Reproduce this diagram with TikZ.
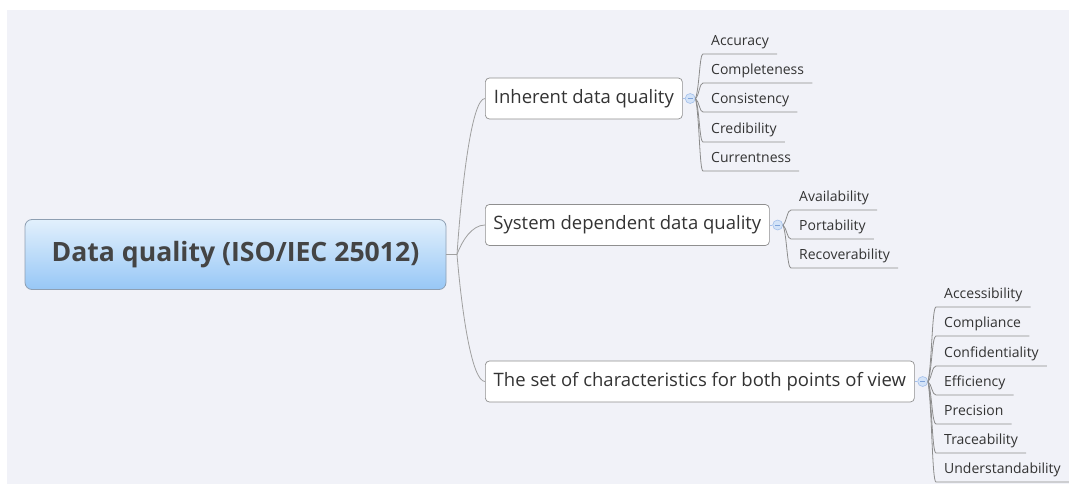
\documentclass[tikz,border=0pt]{standalone}
\usepackage{fontspec}
\setmainfont{Open Sans}
\usetikzlibrary{calc}

\definecolor{panel}{HTML}{F1F2F8}
\definecolor{rootTop}{HTML}{E2F0FC}
\definecolor{rootBot}{HTML}{97C7F6}
\definecolor{rootEdge}{HTML}{8E9FB2}
\definecolor{ink}{HTML}{333333}
\definecolor{rootInk}{HTML}{444444}
\definecolor{boxEdge}{HTML}{8F8F8F}
\definecolor{wire}{HTML}{A0A0A0}
\definecolor{rule}{HTML}{8C8C8C}
\definecolor{knobFill}{HTML}{D3E3F8}
\definecolor{knobEdge}{HTML}{A4C0EA}
\definecolor{knobMark}{HTML}{7FA3DA}

\begin{document}
\begin{tikzpicture}[x=1pt,y=-1pt,
  rootbox/.style={draw=rootEdge, line width=0.8pt, rounded corners=7pt,
    top color=rootTop, bottom color=rootBot,
    minimum width=421pt, minimum height=70pt, inner sep=0pt,
    font=\bfseries\fontsize{26.6}{32}\selectfont, text=rootInk},
  topic/.style={draw=boxEdge, line width=0.7pt, rounded corners=4pt, fill=white,
    anchor=west, minimum height=41pt, inner sep=0pt,
    font=\fontsize{18.5}{22}\selectfont, text=ink},
  knob/.style={circle, draw=knobEdge, fill=knobFill, line width=0.6pt,
    minimum size=10pt, inner sep=0pt,
    path picture={\draw[knobMark, line width=0.7pt]
      ([xshift=-2.6pt]path picture bounding box.center) -- ++(5.2,0);}},
  stub/.style={draw=knobEdge, line width=0.6pt},
  leaf/.style={anchor=south west, inner xsep=8pt, inner ysep=8.5pt,
    text depth=0pt, font=\fontsize{14}{17}\selectfont, text=ink},
  hubline/.style={draw=wire, line width=0.8pt},
  leafline/.style={draw=rule, line width=0.8pt},
  hubwire/.style={
    to path={let \p1=(\tikztostart), \p2=(\tikztotarget) in
      .. controls (\x1+5pt, {\y1+0.47*(\y2-\y1)}) and (\x2-13pt, \y2) .. (\tikztotarget)}},
  leafwire/.style={
    to path={let \p1=(\tikztostart), \p2=(\tikztotarget) in
      .. controls (\x1+4pt, {\y1+0.25*(\y2-\y1)}) and (\x1+4pt, \y2) .. (\tikztotarget)}}
]
\useasboundingbox (0,0) rectangle (1069,493);
\fill[panel] (7,10) rectangle (1069,484);

% central topic
\node[rootbox] (root) at (235.5,254.5) {Data quality (ISO/IEC 25012)};
\coordinate (hub) at (457,254.5);

% main branches
\node[topic, minimum width=197pt] (inh) at (485,98.5) {Inherent data quality};
\node[topic, minimum width=284pt] (sys) at (485,225) {System dependent data quality};
\node[topic, minimum width=429pt] (both) at (485,381.5) {The set of characteristics for both points of view};

\draw[hubline] (root.east) -- (hub);
\draw[hubline] (hub) to[hubwire] (inh.west);
\draw[hubline] (hub) to[hubwire] (sys.west);
\draw[hubline] (hub) to[hubwire] (both.west);

% collapse knobs
\node[knob] (k1) at ($(inh.east)+(7.5,0)$) {};
\node[knob] (k2) at ($(sys.east)+(8,0)$) {};
\node[knob] (k3) at ($(both.east)+(8,0)$) {};
\draw[stub] (inh.east) -- (k1.west);
\draw[stub] (sys.east) -- (k2.west);
\draw[stub] (both.east) -- (k3.west);

% inherent characteristics
\node[leaf] (acc)  at (703,54)  {Accuracy};
\node[leaf] (comp) at (703,83)  {Completeness};
\node[leaf] (cons) at (703,112) {Consistency};
\node[leaf] (cred) at (703,142) {Credibility};
\node[leaf] (curr) at (703,171) {Currentness};
\foreach \lf in {acc,comp,cons,cred,curr}
  \draw[leafline] (k1.east) to[leafwire] (\lf.south west) -- (\lf.south east);

% system dependent characteristics
\node[leaf] (avail) at (791,210) {Availability};
\node[leaf] (port)  at (791,239) {Portability};
\node[leaf] (recov) at (791,268) {Recoverability};
\foreach \lf in {avail,port,recov}
  \draw[leafline] (k2.east) to[leafwire] (\lf.south west) -- (\lf.south east);

% characteristics for both points of view
\node[leaf] (acs)  at (936,307) {Accessibility};
\node[leaf] (cmpl) at (936,336) {Compliance};
\node[leaf] (conf) at (936,366) {Confidentiality};
\node[leaf] (eff)  at (936,395) {Efficiency};
\node[leaf] (prec) at (936,424) {Precision};
\node[leaf] (trac) at (936,453) {Traceability};
\node[leaf] (und)  at (936,482) {Understandability};
\foreach \lf in {acs,cmpl,conf,eff,prec,trac,und}
  \draw[leafline] (k3.east) to[leafwire] (\lf.south west) -- (\lf.south east);
\end{tikzpicture}
\end{document}
